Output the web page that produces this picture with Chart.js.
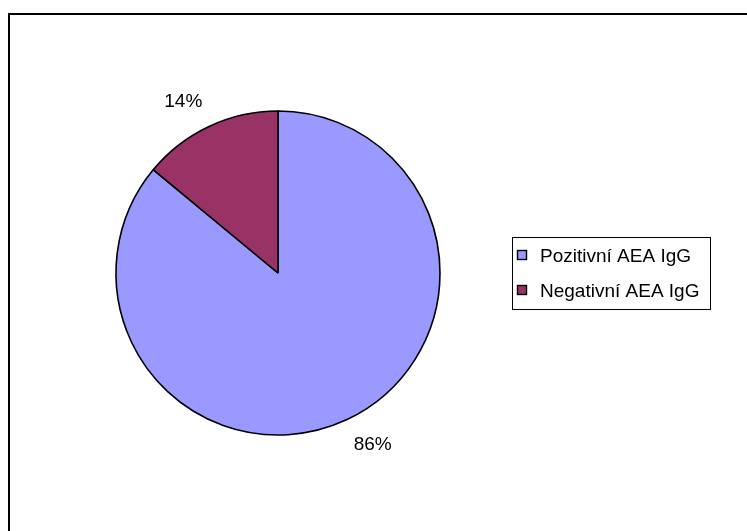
<!DOCTYPE html>
<html>
<head>
<meta charset="utf-8">
<script src="https://cdn.jsdelivr.net/npm/chart.js@4/dist/chart.umd.min.js"></script>
<style>
    body { margin: 0; background: #fff; overflow: hidden; }
    #wrap { position: absolute; left: 0; top: 0; width: 747px; height: 531px; }
    #frame { position: absolute; left: 8px; top: 13px; right: -10px; bottom: -10px;
             border-top: 2px solid #000; border-left: 2px solid #000; }
    canvas { position: absolute; left: 0; top: 0; }
</style>
</head>
<body>
<div id="wrap">
    <div id="frame"></div>
    <canvas id="pieChart" width="747" height="531"></canvas>
</div>
<script>
// chart data
var labels = ['Pozitivní AEA IgG', 'Negativní AEA IgG'];
var values = [86, 14];
var colors = ['#9999FF', '#993366'];

var FONT = "19px 'Liberation Sans', Arial, sans-serif";

// percent labels outside each slice
var sliceLabels = {
    id: 'sliceLabels',
    afterDatasetsDraw: function (chart) {
        var ctx = chart.ctx;
        var meta = chart.getDatasetMeta(0);
        var data = chart.data.datasets[0].data;
        var total = data.reduce(function (a, b) { return a + b; }, 0);
        ctx.save();
        ctx.font = FONT;
        ctx.fillStyle = '#000';
        ctx.textAlign = 'center';
        ctx.textBaseline = 'middle';
        meta.data.forEach(function (arc, i) {
            var p = arc.getProps(['x', 'y', 'startAngle', 'endAngle', 'outerRadius'], true);
            var mid = (p.startAngle + p.endAngle) / 2 - 3.7 * Math.PI / 180;
            var r = p.outerRadius + 34;
            var txt = Math.round(data[i] / total * 100) + '%';
            ctx.fillText(txt, p.x + Math.cos(mid) * r, p.y + Math.sin(mid) * r);
        });
        ctx.restore();
    }
};

// boxed legend on the right
var boxLegend = {
    id: 'boxLegend',
    afterDraw: function (chart) {
        var ctx = chart.ctx;
        var ds = chart.data.datasets[0];
        ctx.save();
        ctx.strokeStyle = '#000';
        ctx.lineWidth = 1;
        ctx.strokeRect(512.5, 237.5, 198, 72);
        ctx.font = FONT;
        ctx.textAlign = 'left';
        ctx.textBaseline = 'alphabetic';
        chart.data.labels.forEach(function (lab, i) {
            var y = 250 + i * 35;
            ctx.fillStyle = ds.backgroundColor[i];
            ctx.fillRect(517, y, 10, 10);
            ctx.lineWidth = 1.4;
            ctx.strokeRect(517.5, y + 0.5, 9, 9);
            ctx.fillStyle = '#000';
            ctx.fillText(lab, 540, y + 12);
        });
        ctx.restore();
    }
};

var ctx = document.getElementById('pieChart').getContext('2d');
var pieChart = new Chart(ctx, {
    type: 'pie',
    data: {
        labels: labels,
        datasets: [{
            data: values,
            backgroundColor: colors,
            borderColor: '#000',
            borderWidth: 1.6
        }]
    },
    options: {
        responsive: false,
        animation: false,
        layout: {
            padding: { left: 115.2, top: 110.2, right: 306.2, bottom: 95.2 }
        },
        plugins: {
            legend: { display: false },
            tooltip: { enabled: false }
        }
    },
    plugins: [sliceLabels, boxLegend]
});
</script>
</body>
</html>
